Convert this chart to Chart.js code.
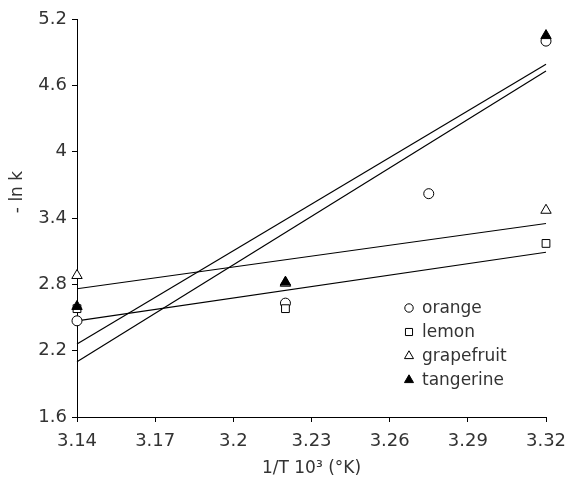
<!DOCTYPE html>
<html>
<head>
<meta charset="utf-8">
<script src="https://cdn.jsdelivr.net/npm/chart.js@4.4.0/dist/chart.umd.min.js"></script>
<style>
  html, body { margin: 0; padding: 0; background: #fff; }
  #wrap { width: 578px; height: 489px; }
</style>
</head>
<body>
<div id="wrap"><canvas id="chart" width="578" height="489"></canvas></div>
<script>
// Axis ticks
let xTicks = [3.14, 3.17, 3.2, 3.23, 3.26, 3.29, 3.32];
let yTicks = [1.6, 2.2, 2.8, 3.4, 4, 4.6, 5.2];

// Measured points (1/T 10^3, -ln k)
let orangeX = [3.14, 3.22, 3.275, 3.32];
let orangeY = [2.47, 2.63, 3.62, 5.0];
let lemonX = [3.14, 3.22, 3.32];
let lemonY = [2.58, 2.58, 3.17];
let grapefruitX = [3.14, 3.22, 3.32];
let grapefruitY = [2.88, 2.81, 3.47];
let tangerineX = [3.14, 3.22, 3.32];
let tangerineY = [2.6, 2.82, 5.05];

// Trend lines (values at both ends of the axis)
let fitX = [3.14, 3.32];
let orangeFit = [2.10, 4.73];
let lemonFit = [2.47, 3.09];
let grapefruitFit = [2.76, 3.35];
let tangerineFit = [2.26, 4.79];

const FONT = "'DejaVu Sans', sans-serif";
const TEXT = "#333";

function pts(xs, ys) {
    return xs.map((x, i) => ({ x: x, y: ys[i] }));
}

function pointSet(label, xs, ys, style, radius, fill, order) {
    return {
        label: label,
        data: pts(xs, ys),
        pointStyle: style,
        pointRadius: radius,
        pointHoverRadius: radius,
        pointBackgroundColor: fill,
        pointBorderColor: "#000",
        pointBorderWidth: 1,
        showLine: false,
        clip: false,
        order: order,
    };
}

function fitSet(ys) {
    return {
        label: "fit",
        data: pts(fitX, ys),
        showLine: true,
        borderColor: "#000",
        borderWidth: 1.2,
        pointRadius: 0,
        fill: false,
        clip: false,
        order: 10,
    };
}

let series = [
    pointSet("orange", orangeX, orangeY, "circle", 5, "#fff", 4),
    pointSet("lemon", lemonX, lemonY, "rect", 5.5, "#fff", 3),
    pointSet("grapefruit", grapefruitX, grapefruitY, "triangle", 6, "#fff", 2),
    pointSet("tangerine", tangerineX, tangerineY, "triangle", 6, "#000", 1),
];

// Legend + y title drawn by hand so they can sit where the original has them
const extras = {
    id: "extras",
    afterDraw(chart) {
        const ctx = chart.ctx;
        ctx.save();
        ctx.font = "17px " + FONT;
        ctx.textBaseline = "middle";
        ctx.textAlign = "left";
        series.forEach((s, i) => {
            let y = 308 + i * 24;
            ctx.fillStyle = s.pointBackgroundColor;
            ctx.strokeStyle = "#000";
            ctx.lineWidth = 1;
            let r = s.pointStyle === "circle" ? 4.2 : (s.pointStyle === "rect" ? 5 : 5.2);
            Chart.helpers.drawPoint(ctx, { pointStyle: s.pointStyle, radius: r, borderWidth: 1, rotation: 0 }, 409, y);
            ctx.fillStyle = TEXT;
            ctx.fillText(s.label, 422, y + 1);
        });
        // y axis title
        ctx.translate(18, 192);
        ctx.rotate(-Math.PI / 2);
        ctx.textAlign = "center";
        ctx.fillText("- ln k", 0, 0);
        ctx.restore();
    },
};

new Chart(document.getElementById("chart"), {
    type: "scatter",
    data: {
        datasets: series.concat([
            fitSet(orangeFit),
            fitSet(lemonFit),
            fitSet(grapefruitFit),
            fitSet(tangerineFit),
        ]),
    },
    options: {
        responsive: false,
        animation: false,
        layout: { padding: { top: 19, right: 32, left: 0, bottom: 0 } },
        plugins: {
            legend: { display: false },
            tooltip: { enabled: false },
        },
        scales: {
            x: {
                type: "linear",
                min: 3.14,
                max: 3.32,
                afterBuildTicks: (s) => { s.ticks = xTicks.map((v) => ({ value: v })); },
                afterFit: (s) => { s.height = 72; },
                ticks: {
                    callback: (v) => String(+v.toFixed(2)),
                    font: { family: FONT, size: 18 },
                    color: TEXT,
                    padding: 9,
                    maxRotation: 0,
                },
                grid: { drawOnChartArea: false, tickLength: 5, color: "#000" },
                border: { color: "#000", width: 1 },
                title: {
                    display: true,
                    text: "1/T 10³ (°K)",
                    font: { family: FONT, size: 17 },
                    color: TEXT,
                    padding: { top: 0, bottom: 10 },
                },
            },
            y: {
                type: "linear",
                min: 1.6,
                max: 5.2,
                afterBuildTicks: (s) => { s.ticks = yTicks.map((v) => ({ value: v })); },
                afterFit: (s) => { s.width = 77; },
                ticks: {
                    callback: (v) => String(+v.toFixed(2)),
                    font: { family: FONT, size: 18 },
                    color: TEXT,
                    padding: 5,
                },
                grid: { drawOnChartArea: false, tickLength: 5, color: "#000" },
                border: { color: "#000", width: 1 },
            },
        },
    },
    plugins: [extras],
});
</script>
</body>
</html>
